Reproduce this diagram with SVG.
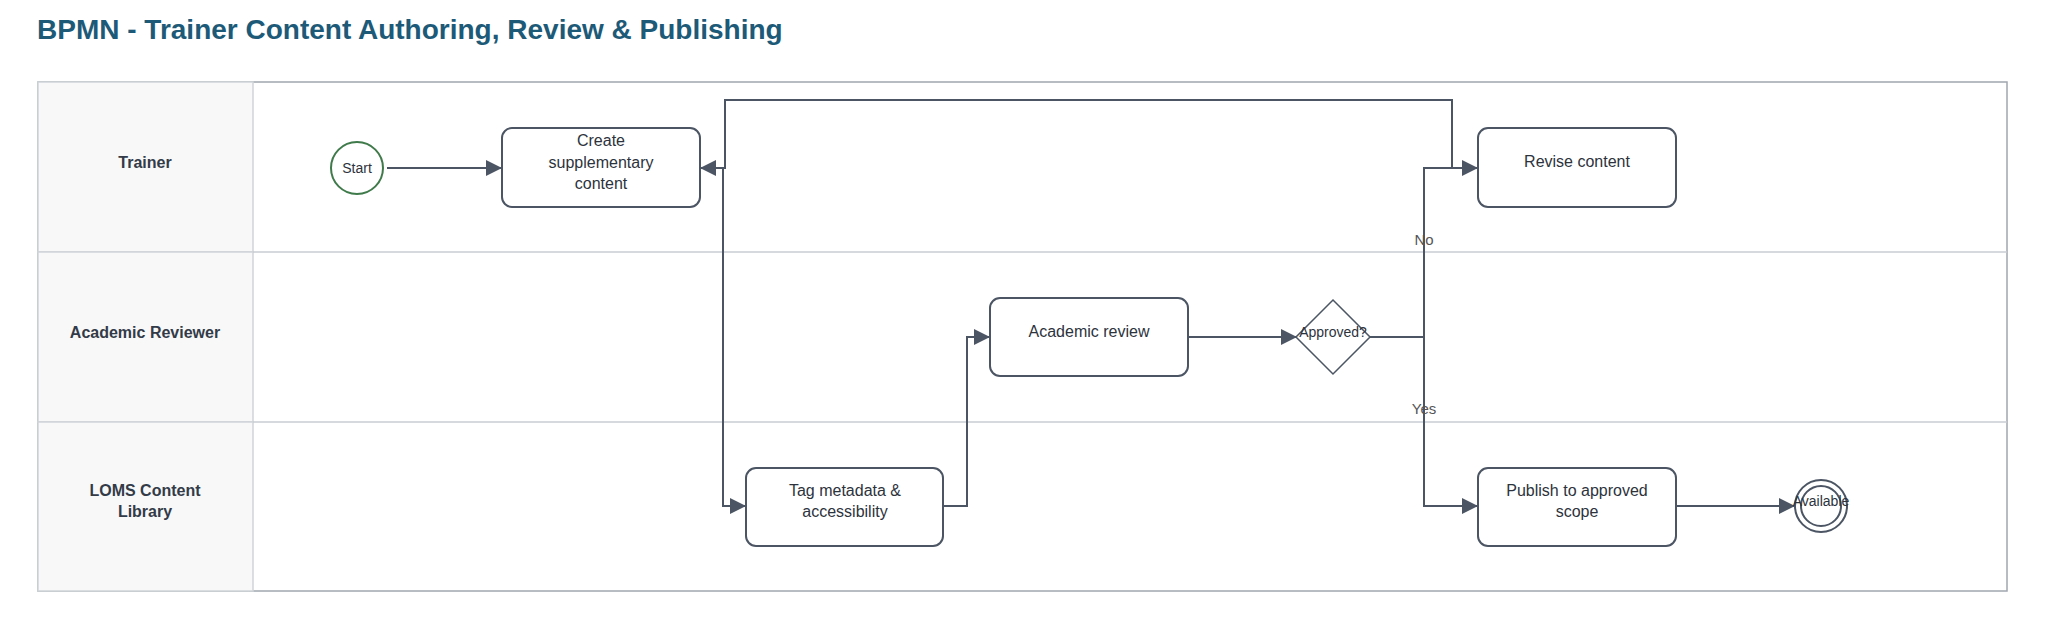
<svg xmlns="http://www.w3.org/2000/svg" width="2047" height="640" viewBox="0 0 2047 640">
<style>
text{font-family:"Liberation Sans",Arial,sans-serif;fill:#2d333c}
.lane{fill:#f8f8f8;stroke:#d0d4d9;stroke-width:1.5}
.lbl{font-weight:bold;font-size:16px;text-anchor:middle;fill:#333b48}
.task{fill:#fff;stroke:#4b5563;stroke-width:2}
.t{font-size:16px;text-anchor:middle}
.c{fill:none;stroke:#4b5563;stroke-width:2}
.cl{font-size:15px;text-anchor:middle;fill:#555}
</style>
<defs><marker id="a" viewBox="0 0 10 10" refX="10" refY="5" markerWidth="8" markerHeight="8" markerUnits="userSpaceOnUse" orient="auto"><path d="M0,0L10,5L0,10z" fill="#4b5563"/></marker>
<marker id="a2" viewBox="0 0 10 10" refX="10" refY="5" markerWidth="16" markerHeight="16" markerUnits="userSpaceOnUse" orient="auto"><path d="M0,0L10,5L0,10z" fill="#4b5563"/></marker></defs>
<text x="37" y="39" font-size="28" font-weight="bold" style="fill:#1d5a78">BPMN - Trainer Content Authoring, Review &amp; Publishing</text>
<g id="pool">
<rect x="38" y="82" width="1969" height="509" fill="#fff" stroke="#a0a7b0" stroke-width="1.5"/>
<rect class="lane" x="38" y="82" width="215" height="170"/>
<rect class="lane" x="38" y="252" width="215" height="170"/>
<rect class="lane" x="38" y="422" width="215" height="169"/>
<line x1="253" y1="252" x2="2007" y2="252" stroke="#c8ccd2" stroke-width="1.5"/>
<line x1="253" y1="422" x2="2007" y2="422" stroke="#c8ccd2" stroke-width="1.5"/>
<text class="lbl" x="145" y="168">Trainer</text>
<text class="lbl" x="145" y="338">Academic Reviewer</text>
<text class="lbl" x="145" y="496">LOMS Content</text>
<text class="lbl" x="145" y="517">Library</text>
</g>
<g id="connectors">
<path class="c" d="M387,168H502" marker-end="url(#a2)"/>
<path class="c" d="M1452,168V100H725V168H700" marker-end="url(#a2)"/>
<path class="c" d="M723,168V506H746" marker-end="url(#a2)"/>
<path class="c" d="M943,506H967V337H990" marker-end="url(#a2)"/>
<path class="c" d="M1188,337H1297" marker-end="url(#a2)"/>
<path class="c" d="M1370,337H1424V168H1478" marker-end="url(#a2)"/>
<path class="c" d="M1424,337V506H1478" marker-end="url(#a2)"/>
<path class="c" d="M1676,506H1795" marker-end="url(#a2)"/>
<text class="cl" x="1424" y="245">No</text>
<text class="cl" x="1424" y="414">Yes</text>
</g>
<g id="start"><circle cx="357" cy="168" r="26" fill="#fff" stroke="#3f7a4a" stroke-width="2"/><text x="357" y="173" font-size="14" text-anchor="middle">Start</text></g>
<g id="create"><rect class="task" x="502" y="128" width="198" height="79" rx="10"/><text class="t" x="601" y="146">Create</text><text class="t" x="601" y="168">supplementary</text><text class="t" x="601" y="189">content</text></g>
<g id="revise"><rect class="task" x="1478" y="128" width="198" height="79" rx="10"/><text class="t" x="1577" y="167">Revise content</text></g>
<g id="review"><rect class="task" x="990" y="298" width="198" height="78" rx="10"/><text class="t" x="1089" y="337">Academic review</text></g>
<g id="gateway"><path d="M1333,300L1370,337L1333,374L1296,337Z" fill="#fff" stroke="#4b5563" stroke-width="1.5"/><text x="1333" y="337" font-size="14" text-anchor="middle">Approved?</text></g>
<g id="tag"><rect class="task" x="746" y="468" width="197" height="78" rx="10"/><text class="t" x="845" y="496">Tag metadata &amp;</text><text class="t" x="845" y="517">accessibility</text></g>
<g id="publish"><rect class="task" x="1478" y="468" width="198" height="78" rx="10"/><text class="t" x="1577" y="496">Publish to approved</text><text class="t" x="1577" y="517">scope</text></g>
<g id="end"><circle cx="1821" cy="506" r="26" fill="#fff" stroke="#4b5563" stroke-width="2"/><circle cx="1821" cy="506" r="20" fill="none" stroke="#4b5563" stroke-width="2"/><text x="1821" y="506" font-size="14" text-anchor="middle">Available</text></g>
</svg>
